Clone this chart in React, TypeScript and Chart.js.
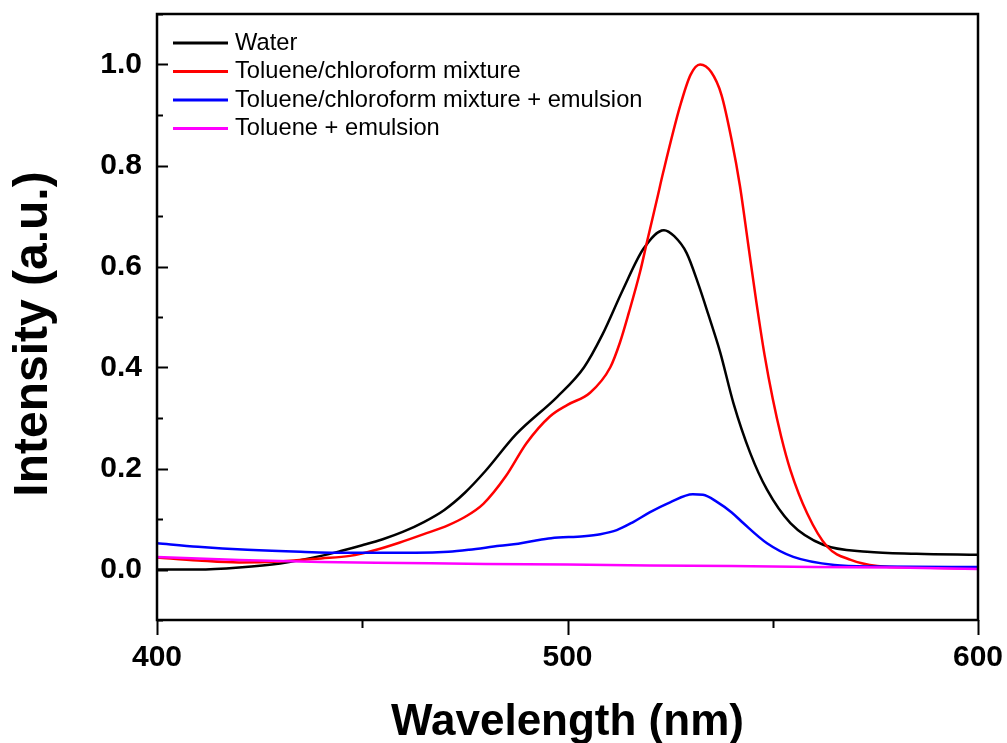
import React, { useEffect, useRef } from "react";
import { Chart, registerables } from "chart.js";

Chart.register(...registerables);

const FONT = '"Liberation Sans", Arial, Helvetica, sans-serif';

const seriesNames = [
  "Water",
  "Toluene/chloroform mixture",
  "Toluene/chloroform mixture + emulsion",
  "Toluene + emulsion",
];
const seriesColors = ["#000000", "#ff0000", "#0000ff", "#ff00ff"];

const waterX = [400, 410, 420, 430, 440, 445, 450, 455, 460, 465, 470, 475, 480, 487.5, 497.5, 504, 508.5, 513.5, 518.5, 523.5, 526, 529, 532, 534.3, 537.2, 540.4, 544.5, 548.6, 554.3, 562.3, 573, 585, 600];
const waterY = [0.0, 0.0, 0.004, 0.012, 0.027, 0.037, 0.048, 0.06, 0.075, 0.094, 0.118, 0.152, 0.195, 0.268, 0.342, 0.4, 0.465, 0.554, 0.635, 0.672, 0.66, 0.627, 0.562, 0.505, 0.43, 0.33, 0.231, 0.158, 0.092, 0.049, 0.035, 0.031, 0.029];

const tolChlX = [400, 410, 420, 430, 440, 447, 453, 459, 465, 471, 475, 479.5, 485, 490, 495.7, 500, 505.5, 510.4, 512.8, 515, 517.7, 519.4, 521.8, 523.3, 527.4, 530, 532.3, 535, 537.5, 540, 542, 544, 546, 548, 550, 552, 554.3, 558.4, 563.3, 569, 575.5, 585, 600];
const tolChlY = [0.024, 0.018, 0.014, 0.016, 0.022, 0.027, 0.038, 0.053, 0.07, 0.088, 0.104, 0.13, 0.185, 0.25, 0.303, 0.326, 0.35, 0.4, 0.45, 0.51, 0.59, 0.65, 0.733, 0.786, 0.917, 0.98, 1.0, 0.985, 0.94, 0.85, 0.76, 0.645, 0.53, 0.425, 0.338, 0.265, 0.197, 0.111, 0.045, 0.019, 0.007, 0.004, 0.002];

const tolChlEmX = [400, 410, 422, 435, 447, 463, 471, 476, 483.5, 488, 492, 496, 504, 508, 512, 516, 520, 525, 530.5, 533, 536.4, 540, 542.8, 548.6, 555, 565, 575, 600];
const tolChlEmY = [0.052, 0.045, 0.039, 0.035, 0.033, 0.033, 0.035, 0.039, 0.047, 0.051, 0.057, 0.062, 0.066, 0.07, 0.078, 0.094, 0.113, 0.133, 0.149, 0.148, 0.134, 0.113, 0.092, 0.052, 0.025, 0.009, 0.006, 0.005];

const tolEmX = [400, 420, 440, 460, 480, 500, 520, 540, 560, 580, 600];
const tolEmY = [0.025, 0.019, 0.015, 0.013, 0.011, 0.01, 0.008, 0.007, 0.005, 0.004, 0.001];

const xTickLabels = ["400", "500", "600"];
const yTickLabels = ["0.0", "0.2", "0.4", "0.6", "0.8", "1.0"];
const xTitle = "Wavelength (nm)";
const yTitle = "Intensity (a.u.)";

const seriesX = [waterX, tolChlX, tolChlEmX, tolEmX];
const seriesY = [waterY, tolChlY, tolChlEmY, tolEmY];

const decorPlugin = {
  id: "decor",
  afterDatasetsDraw(chart: any) {
    const { ctx, chartArea: a, scales } = chart;
    const xs = scales.x;
    const ys = scales.y;
    ctx.save();
    // ticks
    ctx.strokeStyle = "#000";
    ctx.lineWidth = 2;
    ys.ticks.forEach((t: any) => {
      const p = Math.round(ys.getPixelForValue(t.value)) + 0.5;
      const len = t.label !== "" ? 11 : 6;
      ctx.beginPath();
      ctx.moveTo(a.left, p);
      ctx.lineTo(a.left + len, p);
      ctx.stroke();
    });
    xs.ticks.forEach((t: any) => {
      const p = Math.round(xs.getPixelForValue(t.value)) + 0.5;
      const len = t.label !== "" ? 15 : 8;
      ctx.beginPath();
      ctx.moveTo(p, a.bottom);
      ctx.lineTo(p, a.bottom + len);
      ctx.stroke();
    });
    // frame
    ctx.lineWidth = 2.5;
    ctx.strokeRect(a.left, a.top, a.right - a.left, a.bottom - a.top);

    // legend
    ctx.font = `23.7px ${FONT}`;
    ctx.textBaseline = "middle";
    ctx.textAlign = "left";
    chart.data.datasets.forEach((ds: any, i: number) => {
      const cy = a.top + 29 + i * 28.5;
      ctx.strokeStyle = ds.borderColor;
      ctx.lineWidth = 3;
      ctx.beginPath();
      ctx.moveTo(a.left + 16, cy);
      ctx.lineTo(a.left + 71, cy);
      ctx.stroke();
      ctx.fillStyle = "#000";
      ctx.fillText(ds.label, a.left + 78, cy);
    });

    // axis titles
    ctx.fillStyle = "#000";
    ctx.font = `bold 44px ${FONT}`;
    ctx.textAlign = "center";
    ctx.textBaseline = "alphabetic";
    ctx.fillText(xTitle, (a.left + a.right) / 2, a.bottom + 115);
    ctx.save();
    ctx.translate(a.left - 110, (a.top + a.bottom) / 2 + 17);
    ctx.rotate(-Math.PI / 2);
    ctx.font = `bold 48px ${FONT}`;
    ctx.fillText(yTitle, 0, 0);
    ctx.restore();
    ctx.restore();
  },
};

export default function App() {
  const ref = useRef<HTMLCanvasElement | null>(null);
  useEffect(() => {
    if (!ref.current) return;
    const datasets = seriesNames.map((name, i) => ({
      label: name,
      data: seriesX[i].map((x, j) => ({ x, y: seriesY[i][j] })),
      borderColor: seriesColors[i],
      backgroundColor: seriesColors[i],
      borderWidth: 2.5,
      pointRadius: 0,
      fill: false,
      cubicInterpolationMode: "monotone" as const,
      order: 4 - i,
    }));
    const chart = new Chart(ref.current, {
      type: "line",
      data: { datasets },
      plugins: [decorPlugin],
      options: {
        animation: false,
        responsive: false,
        maintainAspectRatio: false,
        layout: { padding: { top: 14, right: 29, left: 0, bottom: 0 } },
        plugins: { legend: { display: false }, tooltip: { enabled: false } },
        scales: {
          x: {
            type: "linear",
            min: 400,
            max: 600,
            grid: { display: false, drawTicks: false },
            border: { display: false },
            afterFit: (s: any) => {
              s.height = 123;
              s.paddingLeft = 0;
              s.paddingRight = 0;
            },
            ticks: {
              stepSize: 50,
              autoSkip: false,
              maxRotation: 0,
              padding: 20,
              color: "#000",
              font: { family: FONT, size: 30, weight: "bold" },
              callback: (v: any) => {
                const l = String(Math.round(Number(v)));
                return xTickLabels.includes(l) ? l : "";
              },
            },
          },
          y: {
            type: "linear",
            min: -0.1,
            max: 1.1,
            grid: { display: false, drawTicks: false },
            border: { display: false },
            afterFit: (s: any) => {
              s.width = 157;
              s.paddingTop = 0;
              s.paddingBottom = 0;
            },
            ticks: {
              stepSize: 0.1,
              autoSkip: false,
              padding: 15,
              color: "#000",
              font: { family: FONT, size: 30, weight: "bold" },
              callback: (v: any) => {
                const l = (Math.round(Number(v) * 10) / 10).toFixed(1);
                return yTickLabels.includes(l) ? l : "";
              },
            },
          },
        },
      },
    });
    return () => chart.destroy();
  }, []);
  return (
    <div style={{ position: "fixed", left: 0, top: 0, width: 1007, height: 743, background: "#fff" }}>
      <canvas ref={ref} width={1007} height={743} style={{ display: "block", width: 1007, height: 743 }} />
    </div>
  );
}
